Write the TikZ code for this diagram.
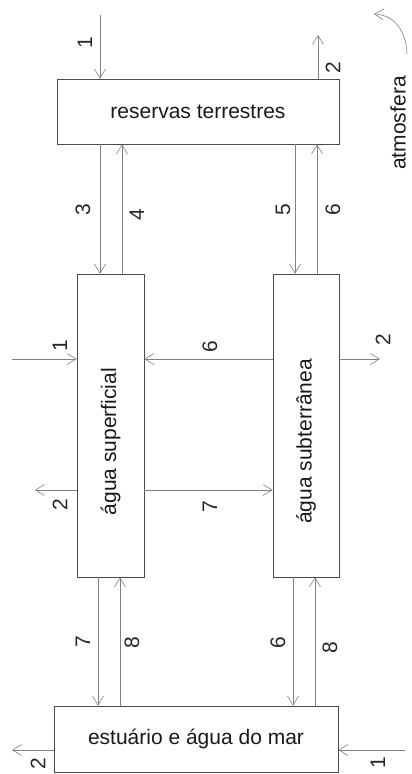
\documentclass[tikz,border=0pt]{standalone}
\usepackage{fontspec}
\setmainfont{Liberation Sans}
\usetikzlibrary{arrows.meta, positioning}

\tikzset{
  caixa/.style={draw=black!70, line width=0.7pt, inner sep=0pt, text=black!90,
    font=\fontsize{21}{25}\selectfont},
  fluxo/.style={draw=black!50, line width=0.6pt, -{Straight Barb[length=9pt,width=11pt]}},
  num/.style={rotate=90, inner sep=0pt, text=black!85, font=\fontsize{21}{25}\selectfont},
  rotulo/.style={rotate=90, inner sep=0pt, text=black!90, font=\fontsize{21}{25}\selectfont}
}

\begin{document}
\begin{tikzpicture}[x=1pt, y=-1pt]
  \useasboundingbox (0,0) rectangle (412,774);
  % caixas
  \node[caixa, minimum width=282pt, minimum height=65pt] (res) at (198,111.5) {reservas terrestres};
  \node[caixa, minimum width=67pt, minimum height=303pt] (sup) at (110.5,425.5) {};
  \node[caixa, minimum width=66pt, minimum height=303pt] (sub) at (306,425.5) {};
  \node[caixa, minimum width=284pt, minimum height=66pt] (est) at (196,739) {estuário e água do mar};
  \node[rotulo] (supt) at ([yshift=-16pt]sup.center) {água superficial};
  \node[rotulo] (subt) at ([yshift=-16pt]sub.center) {água subterrânea};
  \node[rotulo] (atm) at (398,123) {atmosfera};

  % pontas livres
  \coordinate (e1) at (100,15);
  \coordinate (s2) at (318,35);
  \coordinate (m1) at (12,359);
  \coordinate (m2) at (380,359);
  \coordinate (w2) at (35,490);
  \coordinate (b2) at (12,750);
  \coordinate (b1) at (405,750);
  \coordinate (a0) at (407,54);
  \coordinate (a1) at (374,14);

  % fluxos de cima
  \draw[fluxo] (e1) -- (res.north -| e1);
  \draw[fluxo] (res.north -| s2) -- (s2);
  \draw[fluxo] ([xshift=-10.5pt]sup.north |- res.south) -- ([xshift=-10.5pt]sup.north);
  \draw[fluxo] ([xshift=11.5pt]sup.north) -- ([xshift=11.5pt]sup.north |- res.south);
  \draw[fluxo] ([xshift=-11pt]sub.north |- res.south) -- ([xshift=-11pt]sub.north);
  \draw[fluxo] ([xshift=11pt]sub.north) -- ([xshift=11pt]sub.north |- res.south);

  % fluxos do meio
  \draw[fluxo] (m1) -- (sup.west |- m1);
  \draw[fluxo] (sub.west |- m1) -- (sup.east |- m1);
  \draw[fluxo] (sub.east |- m2) -- (m2);
  \draw[fluxo] (sup.west |- w2) -- (w2);
  \draw[fluxo] (sup.east |- w2) -- (sub.west |- w2);

  % fluxos de baixo
  \draw[fluxo] ([xshift=-12.5pt]sup.south) -- ([xshift=-12.5pt]sup.south |- est.north);
  \draw[fluxo] ([xshift=9.5pt]sup.south |- est.north) -- ([xshift=9.5pt]sup.south);
  \draw[fluxo] ([xshift=-13pt]sub.south) -- ([xshift=-13pt]sub.south |- est.north);
  \draw[fluxo] ([xshift=9pt]sub.south |- est.north) -- ([xshift=9pt]sub.south);
  \draw[fluxo] (est.west |- b2) -- (b2);
  \draw[fluxo] (b1) -- (est.east |- b1);

  % atmosfera
  \draw[fluxo] (a0) .. controls (406,30) and (394,15) .. (a1);

  % numeros
  \node[num] (n1a) at (85,43) {1};
  \node[num] (n2a) at (333,68) {2};
  \node[num] (n3) at (83,210) {3};
  \node[num] (n4) at (137,215) {4};
  \node[num] (n5) at (283,210) {5};
  \node[num] (n6a) at (333,210) {6};
  \node[num] (n1b) at (60,346) {1};
  \node[num] (n6b) at (210,347) {6};
  \node[num] (n2b) at (383,340) {2};
  \node[num] (n2c) at (60,505) {2};
  \node[num] (n7a) at (210,507) {7};
  \node[num] (n7b) at (83,642) {7};
  \node[num] (n8a) at (132,643) {8};
  \node[num] (n6c) at (278,643) {6};
  \node[num] (n8b) at (330,648) {8};
  \node[num] (n2d) at (38,764) {2};
  \node[num] (n1c) at (378,763) {1};
\end{tikzpicture}
\end{document}
